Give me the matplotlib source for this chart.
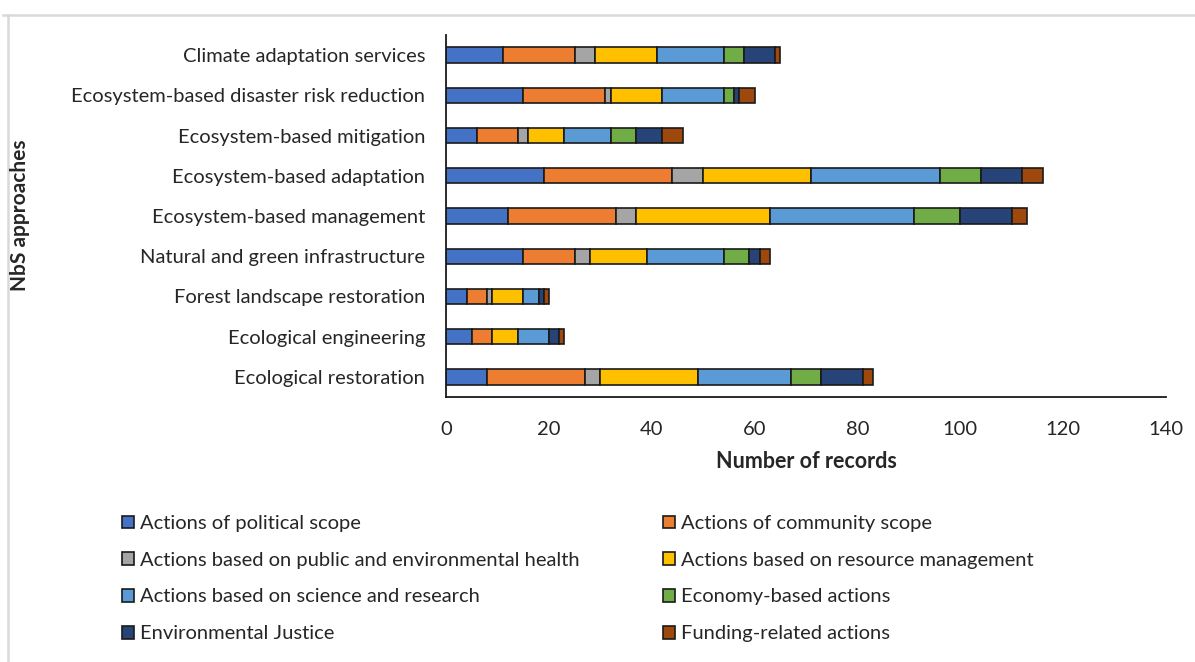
import matplotlib
matplotlib.use("Agg")
import matplotlib.pyplot as plt
from matplotlib.patches import Patch
from matplotlib.lines import Line2D
import numpy as np

plt.rcParams['font.family'] = ['Lato', 'DejaVu Sans']

# NbS approaches, listed top to bottom
approaches = [
    "Climate adaptation services",
    "Ecosystem-based disaster risk reduction",
    "Ecosystem-based mitigation",
    "Ecosystem-based adaptation",
    "Ecosystem-based management",
    "Natural and green infrastructure",
    "Forest landscape restoration",
    "Ecological engineering",
    "Ecological restoration",
]

action_types = [
    "Actions of political scope",
    "Actions of community scope",
    "Actions based on public and environmental health",
    "Actions based on resource management",
    "Actions based on science and research",
    "Economy-based actions",
    "Environmental Justice",
    "Funding-related actions",
]

# Number of records per action type, one value per approach (same order as above)
political     = [11, 15, 6, 19, 12, 15, 4, 5, 8]
community     = [14, 16, 8, 25, 21, 10, 4, 4, 19]
health        = [4, 1, 2, 6, 4, 3, 1, 0, 3]
resource_mgmt = [12, 10, 7, 21, 26, 11, 6, 5, 19]
science       = [13, 12, 9, 25, 28, 15, 3, 6, 18]
economy       = [4, 2, 5, 8, 9, 5, 0, 0, 6]
env_justice   = [6, 1, 5, 8, 10, 2, 1, 2, 8]
funding       = [1, 3, 4, 4, 3, 2, 1, 1, 2]

series = [political, community, health, resource_mgmt,
          science, economy, env_justice, funding]
colors = ["#4472C4", "#ED7D31", "#A5A5A5", "#FFC000",
          "#5B9BD5", "#70AD47", "#264478", "#9E480E"]

text_color = "#262626"
edge_color = "#1a1a1a"

fig = plt.figure(figsize=(11.95, 6.62), dpi=100)
ax = fig.add_axes([446 / 1195, 1 - 397 / 662, 720 / 1195, 362 / 662])

y = np.arange(len(approaches))
left = np.zeros(len(approaches))
for vals, col, lab in zip(series, colors, action_types):
    vals = np.array(vals, dtype=float)
    ax.barh(y, vals, left=left, height=0.38, color=col,
            edgecolor=edge_color, linewidth=1.2, label=lab)
    left += vals

ax.set_ylim(len(approaches) - 0.5, -0.5)
ax.set_xlim(0, 140)
ax.set_xticks(np.arange(0, 141, 20))
ax.set_yticks(y)
ax.set_yticklabels(approaches)

for side in ("top", "right"):
    ax.spines[side].set_visible(False)
for side in ("left", "bottom"):
    ax.spines[side].set_color("#1a1a1a")
    ax.spines[side].set_linewidth(1.3)

ax.tick_params(axis="both", length=0, colors=text_color)
ax.tick_params(axis="x", pad=17, labelsize=14.5)
ax.tick_params(axis="y", pad=15, labelsize=14.5)

ax.set_xlabel("Number of records", fontsize=15.5, fontweight="bold",
              color=text_color, labelpad=10)
fig.text(20 / 1195, 1 - 215 / 662, "NbS approaches", rotation=90,
         ha="center", va="center", fontsize=15, fontweight="bold",
         color=text_color)

# Legend: two columns, filled row by row
handles = [Patch(facecolor=c, edgecolor=edge_color, linewidth=1.2)
           for c in colors]
common = dict(frameon=False, fontsize=14.5, handlelength=0.6,
              handleheight=0.6, handletextpad=0.3, labelspacing=0.98,
              borderaxespad=0, borderpad=0, labelcolor=text_color)
fig.legend(handles[0::2], action_types[0::2], loc="upper left",
           bbox_to_anchor=(122 / 1195, 1 - 515 / 662), **common)
fig.legend(handles[1::2], action_types[1::2], loc="upper left",
           bbox_to_anchor=(663 / 1195, 1 - 515 / 662), **common)

# Light frame around the chart area
fig.add_artist(Line2D([3 / 1195, 1.0], [1 - 14.5 / 662] * 2,
                      transform=fig.transFigure, color="#d9d9d9", lw=1.8))
fig.add_artist(Line2D([7.5 / 1195] * 2, [0.0, 1 - 14.5 / 662],
                      transform=fig.transFigure, color="#d9d9d9", lw=1.8))

fig.savefig("out.png", dpi=100, facecolor="white")
